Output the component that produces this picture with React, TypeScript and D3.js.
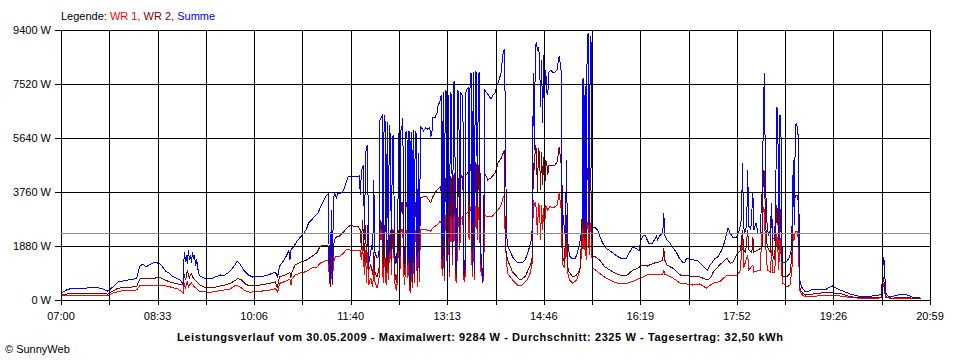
import React from 'react';
import * as d3 from 'd3';

const wr1: [number, number][] = [
  [0, 140], [38, 160], [42, 160], [45, 140], [49, 230], [57, 310], [73, 350], [76, 490], [96, 520], [105, 460],
  [113, 380], [118, 250], [119, 590], [120, 420], [121, 520], [122, 660], [123, 450], [125, 560], [126, 590], [128, 490],
  [130, 420], [132, 350], [134, 290], [144, 270], [154, 330], [163, 380], [169, 520], [173, 450], [178, 320], [182, 270],
  [192, 300], [202, 350], [207, 400], [209, 280], [210, 380], [211, 580], [216, 640], [221, 720], [222, 520], [223, 730],
  [226, 870], [231, 940], [237, 990], [242, 1110], [247, 1140], [250, 1280], [253, 1320], [257, 1390], [258, 1390], [259, 870],
  [260, 460], [261, 1110], [262, 520], [263, 1320], [265, 1510], [269, 1530], [272, 1600], [276, 1780], [279, 1740], [287, 1740],
  [289, 1710], [290, 1390], [291, 1850], [292, 1460], [293, 870], [294, 1740], [295, 590], [296, 1670], [297, 520], [299, 770],
  [301, 450], [302, 1320], [303, 630], [305, 420], [307, 700], [308, 2580], [309, 2090], [310, 2680], [311, 590], [312, 2510],
  [313, 870], [314, 520], [315, 1570], [316, 700], [317, 1570], [318, 2370], [319, 870], [320, 2440], [321, 2400], [322, 630],
  [323, 450], [324, 310], [325, 870], [326, 2400], [327, 520], [328, 2370], [329, 2440], [330, 2470], [331, 870], [332, 520],
  [333, 2440], [334, 2400], [335, 770], [336, 2440], [337, 240], [338, 2400], [339, 420], [340, 2440], [341, 590], [342, 2400],
  [343, 2440], [344, 450], [345, 2090], [346, 630], [347, 2440], [350, 2440], [353, 2440], [357, 2400], [359, 2510], [363, 2610],
  [366, 2730], [367, 2680], [368, 840], [369, 2920], [370, 660], [371, 2960], [372, 2850], [373, 700], [374, 2790], [375, 800],
  [376, 2920], [377, 2850], [378, 1220], [379, 2920], [380, 2960], [381, 730], [382, 590], [383, 2890], [384, 2820], [385, 1740],
  [386, 2850], [387, 2850], [388, 2920], [389, 700], [390, 630], [391, 2990], [392, 3030], [393, 3060], [394, 2090], [395, 3200],
  [396, 3240], [397, 800], [398, 3270], [399, 700], [400, 3250], [401, 3240], [402, 2090], [403, 3200], [404, 3240], [405, 970],
  [406, 1040], [407, 590], [408, 770], [409, 2960], [412, 2890], [416, 2900], [419, 3030], [422, 3130], [425, 3310], [427, 3590],
  [428, 3620], [429, 1980], [431, 940], [434, 800], [436, 700], [441, 520], [445, 520], [450, 700], [453, 940], [455, 1290],
  [456, 3480], [457, 3310], [458, 3410], [459, 3130], [460, 2260], [461, 3380], [462, 3240], [463, 2090], [464, 3310], [465, 2440],
  [466, 3200], [467, 2610], [468, 3270], [470, 3130], [472, 3250], [475, 3200], [479, 3310], [481, 3720], [483, 3130], [484, 1290],
  [486, 1110], [488, 2190], [489, 970], [491, 700], [494, 580], [498, 700], [501, 1040], [503, 1740], [504, 2680], [505, 1740],
  [506, 2680], [507, 1390], [508, 2650], [509, 2720], [510, 1570], [511, 2680], [512, 2260], [513, 1100], [516, 1050], [520, 930],
  [525, 790], [530, 700], [535, 600], [540, 580], [546, 580], [552, 640], [559, 760], [566, 870], [575, 890], [581, 900],
  [582, 1040], [583, 900], [585, 870], [591, 760], [598, 580], [604, 560], [610, 520], [617, 560], [623, 410], [627, 520],
  [630, 590], [636, 640], [643, 870], [649, 870], [653, 870], [656, 1040], [658, 2330], [659, 1110], [663, 1570], [664, 1040],
  [668, 1220], [669, 970], [675, 1040], [678, 3240], [679, 3130], [680, 2090], [682, 1040], [685, 970], [686, 1740], [687, 970],
  [689, 940], [691, 2330], [692, 1910], [693, 1040], [694, 2260], [695, 1740], [696, 870], [697, 580], [701, 460], [704, 520],
  [706, 1220], [707, 2330], [708, 2090], [709, 2380], [711, 2370], [712, 2090], [713, 350], [714, 280], [716, 160], [719, 110],
  [730, 140], [742, 170], [752, 140], [762, 90], [771, 60], [792, 70], [793, 350], [794, 580], [795, 350], [796, 100],
  [803, 60], [830, 50],
];

const wr2: [number, number][] = [
  [0, 170], [9, 230], [42, 230], [45, 200], [49, 290], [52, 350], [55, 410], [62, 440], [73, 460], [76, 730],
  [86, 750], [96, 780], [100, 700], [105, 630], [110, 580], [118, 520], [119, 910], [120, 730], [121, 800], [122, 1040],
  [123, 870], [124, 770], [125, 870], [126, 910], [127, 800], [129, 700], [131, 630], [134, 520], [139, 430], [149, 450],
  [158, 520], [164, 590], [168, 680], [171, 750], [174, 700], [178, 560], [182, 490], [192, 520], [202, 580], [207, 630],
  [209, 420], [210, 660], [211, 800], [216, 870], [221, 950], [222, 770], [223, 970], [226, 1220], [231, 1310], [237, 1390],
  [242, 1510], [247, 1640], [250, 1860], [253, 1900], [257, 1910], [258, 1880], [259, 1040], [260, 460], [261, 1570], [262, 560],
  [263, 1910], [265, 2180], [269, 2230], [273, 2370], [276, 2510], [279, 2590], [287, 2550], [289, 2440], [290, 1740], [291, 2790],
  [292, 2260], [293, 1290], [294, 2610], [295, 1290], [296, 2610], [297, 1040], [299, 1220], [301, 870], [302, 1670], [303, 970],
  [305, 800], [307, 1040], [308, 2790], [309, 2440], [310, 2720], [311, 1110], [312, 2610], [313, 1220], [314, 970], [315, 2090],
  [316, 1040], [317, 1910], [318, 2440], [319, 1320], [320, 2400], [321, 2370], [322, 970], [323, 800], [324, 590], [325, 1220],
  [326, 2440], [327, 870], [328, 2960], [329, 3380], [330, 3410], [331, 1320], [332, 870], [333, 3410], [334, 3380], [335, 1220],
  [336, 3410], [337, 350], [338, 3380], [339, 630], [340, 3450], [341, 840], [342, 3410], [343, 3380], [344, 770], [345, 2960],
  [346, 970], [347, 3550], [350, 3590], [353, 3600], [357, 3380], [359, 3590], [363, 3830], [366, 3940], [367, 3760], [368, 1040],
  [369, 4350], [370, 800], [371, 4250], [372, 4180], [373, 870], [374, 4110], [375, 970], [376, 4320], [377, 4180], [378, 1570],
  [379, 4320], [380, 4420], [381, 970], [382, 770], [383, 4250], [384, 4180], [385, 2090], [386, 4350], [387, 4280], [388, 4320],
  [389, 870], [390, 800], [391, 4350], [392, 4390], [393, 4460], [394, 2790], [395, 4670], [396, 4730], [397, 1040], [398, 4770],
  [399, 900], [400, 4770], [401, 4730], [402, 2440], [403, 4670], [404, 4700], [405, 1220], [406, 1320], [407, 700], [408, 970],
  [409, 4420], [412, 4180], [415, 4250], [419, 4420], [422, 4770], [425, 4940], [427, 5120], [428, 5220], [429, 1860], [431, 1390],
  [434, 1160], [436, 970], [439, 870], [442, 730], [445, 730], [448, 810], [451, 1040], [454, 1290], [455, 1500], [456, 4770],
  [457, 4530], [458, 5400], [459, 5220], [460, 3720], [461, 5290], [462, 5050], [463, 3830], [464, 5150], [465, 4000], [466, 4980],
  [467, 3830], [468, 4870], [469, 4770], [470, 4350], [471, 4670], [473, 4700], [475, 4670], [477, 4700], [479, 4800], [481, 5330],
  [483, 4700], [484, 1510], [486, 1320], [488, 2960], [489, 1220], [490, 1010], [492, 900], [494, 810], [497, 840], [499, 940],
  [501, 1040], [503, 2440], [504, 4530], [505, 2090], [506, 4460], [507, 1740], [508, 4600], [509, 4530], [510, 2090], [511, 4600],
  [512, 3480], [513, 1510], [516, 1500], [520, 1390], [525, 1160], [530, 1040], [535, 930], [540, 870], [546, 850], [552, 1040],
  [557, 1110], [561, 1220], [566, 1180], [572, 1280], [578, 1330], [581, 1390], [582, 1800], [583, 1390], [585, 1220], [591, 1100],
  [598, 870], [604, 870], [610, 810], [617, 800], [624, 700], [627, 770], [630, 990], [633, 1110], [636, 1220], [640, 1360],
  [643, 1450], [646, 1280], [649, 1320], [653, 1630], [656, 1710], [658, 2440], [659, 1740], [661, 1670], [663, 2440], [664, 1740],
  [667, 1640], [668, 2190], [669, 1670], [673, 1740], [677, 1850], [678, 4530], [679, 4460], [680, 3130], [681, 2090], [682, 1850],
  [685, 1630], [686, 3380], [687, 1570], [689, 1390], [691, 3310], [692, 2960], [693, 1740], [694, 3310], [695, 2540], [696, 1390],
  [697, 810], [701, 810], [704, 940], [706, 1740], [707, 3720], [708, 3310], [709, 3650], [711, 3650], [712, 3380], [713, 460],
  [714, 350], [716, 240], [719, 170], [723, 190], [730, 230], [738, 260], [742, 270], [747, 240], [752, 230], [757, 170],
  [762, 110], [771, 90], [781, 90], [792, 100], [793, 520], [794, 810], [795, 520], [796, 140], [800, 60], [810, 80],
  [820, 70], [830, 50],
];

const summe: [number, number][] = [
  [0, 240], [7, 380], [26, 420], [34, 440], [41, 380], [45, 310], [49, 420], [52, 520], [55, 630], [60, 660],
  [65, 700], [70, 730], [73, 740], [76, 1180], [79, 1250], [82, 1150], [85, 1220], [89, 1290], [93, 1290], [96, 1250],
  [98, 1150], [101, 1010], [104, 940], [107, 840], [111, 770], [115, 700], [118, 560], [119, 1670], [120, 1320], [121, 1570],
  [122, 1250], [123, 1740], [124, 1390], [125, 1570], [126, 1290], [127, 1670], [128, 1460], [129, 1530], [130, 1180], [131, 1430],
  [132, 1110], [133, 940], [134, 840], [139, 750], [144, 730], [149, 800], [154, 870], [157, 840], [161, 940], [165, 1080],
  [168, 1220], [170, 1360], [172, 1290], [174, 1180], [177, 1010], [181, 870], [185, 800], [192, 820], [197, 840], [202, 900],
  [207, 970], [209, 800], [210, 970], [211, 1180], [214, 1320], [217, 1500], [220, 1710], [221, 1390], [222, 1740], [225, 1880],
  [228, 2050], [231, 2190], [234, 2300], [237, 2470], [239, 2680], [242, 2790], [245, 2920], [248, 3030], [251, 3270], [254, 3480],
  [256, 3620], [258, 3690], [259, 1390], [260, 590], [261, 3130], [262, 700], [263, 3480], [264, 3720], [266, 3550], [267, 3690],
  [270, 3720], [273, 3830], [275, 4040], [277, 4280], [279, 4320], [281, 4300], [285, 4300], [288, 4320], [289, 3650], [290, 4460],
  [291, 4600], [292, 4700], [293, 2090], [294, 5050], [295, 5330], [296, 5400], [297, 1220], [298, 1460], [300, 1910], [301, 1740],
  [302, 4180], [303, 1670], [305, 1460], [307, 1530], [308, 6270], [309, 6340], [310, 6400], [311, 1740], [312, 6440], [313, 6200],
  [314, 1390], [315, 6200], [316, 1570], [317, 6090], [318, 5670], [319, 1570], [320, 5670], [321, 5710], [322, 1740], [323, 1290],
  [324, 1320], [325, 2090], [326, 5810], [327, 1040], [328, 5880], [329, 5990], [330, 6340], [331, 1570], [332, 1220], [333, 5850],
  [334, 5880], [335, 1390], [336, 5880], [337, 700], [338, 5850], [339, 870], [340, 5920], [341, 1110], [342, 5880], [343, 5810],
  [344, 1040], [345, 5120], [346, 1220], [347, 6060], [348, 5990], [349, 5950], [350, 5880], [352, 5990], [354, 5950], [356, 6020],
  [357, 5670], [358, 5780], [359, 6340], [361, 6340], [363, 6510], [364, 6750], [366, 6930], [367, 7140], [368, 1290], [369, 7240],
  [370, 1040], [371, 7310], [372, 7240], [373, 1040], [374, 7140], [375, 1110], [376, 7240], [377, 7140], [378, 1740], [379, 7550],
  [380, 7590], [381, 1220], [382, 1040], [383, 7310], [384, 7210], [385, 2440], [386, 7240], [387, 7140], [388, 7030], [389, 1040],
  [390, 940], [391, 7240], [392, 7340], [393, 7380], [394, 3480], [395, 7800], [396, 7900], [397, 1220], [398, 7940], [399, 1040],
  [400, 7970], [401, 7900], [402, 3480], [403, 7830], [404, 7940], [405, 1500], [406, 1570], [407, 590], [408, 1040], [409, 7310],
  [412, 7170], [415, 7000], [417, 7140], [419, 7210], [421, 7480], [423, 7660], [425, 7940], [426, 8350], [427, 8630], [428, 8740],
  [429, 6610], [430, 2440], [431, 1910], [434, 1670], [436, 1500], [439, 1360], [442, 1290], [445, 1290], [448, 1390], [451, 1670],
  [454, 2090], [455, 2510], [456, 7900], [457, 5220], [458, 8880], [459, 8950], [460, 8700], [461, 8770], [462, 8530], [463, 6720],
  [464, 8350], [465, 6160], [466, 8530], [467, 7310], [468, 8010], [469, 7210], [470, 7140], [471, 7940], [473, 8010], [475, 7900],
  [477, 7940], [479, 8010], [480, 8280], [481, 8490], [482, 8250], [483, 7940], [484, 2440], [485, 2960], [486, 2440], [487, 2190],
  [488, 4870], [489, 2090], [490, 1810], [491, 1530], [493, 1460], [496, 1430], [498, 1570], [500, 1850], [502, 2230], [503, 2680],
  [504, 7730], [505, 2510], [506, 7450], [507, 2230], [508, 9190], [509, 9284], [510, 2440], [511, 9190], [512, 8880], [513, 2540],
  [515, 2540], [518, 2440], [520, 2230], [523, 1980], [526, 1810], [530, 1710], [534, 1600], [538, 1500], [542, 1430], [546, 1460],
  [549, 1670], [552, 1850], [556, 1780], [558, 1710], [560, 2090], [562, 2230], [564, 2260], [566, 2090], [568, 1950], [571, 1980],
  [574, 2160], [575, 2230], [576, 2090], [578, 2230], [580, 2300], [581, 2330], [582, 3030], [583, 2230], [585, 2090], [588, 1980],
  [591, 1810], [594, 1670], [597, 1460], [600, 1320], [602, 1290], [604, 1460], [607, 1430], [611, 1390], [615, 1360], [618, 1250],
  [621, 1150], [624, 1040], [626, 1180], [629, 1320], [631, 1430], [634, 1500], [637, 1670], [640, 1950], [642, 2230], [644, 2510],
  [646, 2330], [649, 2160], [652, 2160], [654, 2330], [656, 2610], [657, 2890], [658, 4770], [659, 2610], [660, 2330], [662, 2580],
  [663, 4530], [664, 2580], [666, 2440], [668, 3720], [669, 2440], [671, 2680], [673, 2330], [675, 2330], [676, 3130], [677, 3830],
  [678, 6020], [679, 7900], [680, 4870], [681, 2890], [682, 2540], [683, 2230], [685, 2440], [686, 3380], [687, 2190], [689, 2090],
  [690, 3480], [691, 6720], [692, 6610], [693, 2090], [694, 6440], [695, 6370], [696, 1910], [697, 1290], [700, 1320], [703, 1460],
  [705, 1740], [706, 2790], [707, 4870], [708, 2610], [709, 6090], [710, 6130], [711, 6020], [712, 5570], [713, 700], [714, 590],
  [715, 450], [718, 310], [721, 280], [724, 350], [728, 380], [733, 380], [739, 380], [742, 450], [745, 490], [748, 420],
  [752, 350], [757, 280], [762, 210], [767, 160], [771, 120], [777, 120], [783, 140], [789, 160], [792, 210], [793, 700],
  [794, 1500], [795, 1320], [796, 280], [798, 140], [802, 120], [807, 170], [813, 190], [818, 170], [822, 100], [826, 100],
  [830, 60],
];

const yTicks = [0, 1880, 3760, 5640, 7520, 9400];
const timeLabels = ['07:00', '08:33', '10:06', '11:40', '13:13', '14:46', '16:19', '17:52', '19:26', '20:59'];
const average = 2325;
const dayMinutes = 839; // 07:00 .. 20:59
const title =
  'Leistungsverlauf vom 30.05.2009 - Maximalwert: 9284 W - Durchschnitt: 2325 W - Tagesertrag: 32,50 kWh';

const font = '"Liberation Sans", Arial, sans-serif';

export default function App() {
  const width = 960;
  const height = 360;
  const left = 61;
  const right = 930;
  const top = 30;
  const bottom = 300;

  const x = d3.scaleLinear().domain([0, dayMinutes]).range([left, right]);
  const y = d3.scaleLinear().domain([0, 9400]).range([bottom, top]);
  const line = d3
    .line<[number, number]>()
    .x((d) => x(d[0]))
    .y((d) => y(d[1]));

  // pixel snapping for 1px lines
  const snap = (v: number) => Math.round(v) + 0.5;
  const grid = d3.range(19).map((i) => (i * dayMinutes) / 18);

  const series = [
    { data: wr1, color: '#ff0000' },
    { data: wr2, color: '#800000' },
    { data: summe, color: '#0000ff' },
  ];

  return (
    <svg
      width={width}
      height={height}
      style={{ position: 'absolute', left: 0, top: 0, background: '#fff' }}
      fontFamily={font}
      fontSize={11}
    >
      <rect width={width} height={height} fill="#fff" />

      {series.map((s) => (
        <path
          key={s.color}
          d={line(s.data) ?? ''}
          fill="none"
          stroke={s.color}
          strokeWidth={1}
          shapeRendering="crispEdges"
        />
      ))}

      {/* grid, drawn over the curves like the original */}
      <g stroke="#000" strokeWidth={1} shapeRendering="crispEdges">
        {yTicks.map((t) => (
          <line key={'h' + t} x1={left - 6} x2={right + 0.5} y1={snap(y(t))} y2={snap(y(t))} />
        ))}
        {grid.map((m, i) => (
          <line key={'v' + i} x1={snap(x(m))} x2={snap(x(m))} y1={top} y2={bottom + 5} />
        ))}
      </g>
      <line
        x1={left}
        x2={right}
        y1={snap(y(average))}
        y2={snap(y(average))}
        stroke="#8c8c8c"
        strokeWidth={1}
        shapeRendering="crispEdges"
      />

      {yTicks.map((t) => (
        <text key={'yl' + t} x={51} y={y(t) + 4} textAnchor="end" fill="#000">
          {t} W
        </text>
      ))}
      {timeLabels.map((label, i) => (
        <text key={label} x={x(grid[i * 2])} y={320} textAnchor="middle" fill="#000">
          {label}
        </text>
      ))}

      <text x={61} y={20} fill="#000">
        Legende: <tspan fill="#ff0000">WR 1, </tspan>
        <tspan fill="#800000">WR 2, </tspan>
        <tspan fill="#0000ff">Summe</tspan>
      </text>

      <text x={480} y={341} textAnchor="middle" fontWeight="bold" fill="#000" textLength={606} lengthAdjust="spacing">
        {title}
      </text>
      <text x={5} y={353} fill="#000">
        © SunnyWeb
      </text>
    </svg>
  );
}
